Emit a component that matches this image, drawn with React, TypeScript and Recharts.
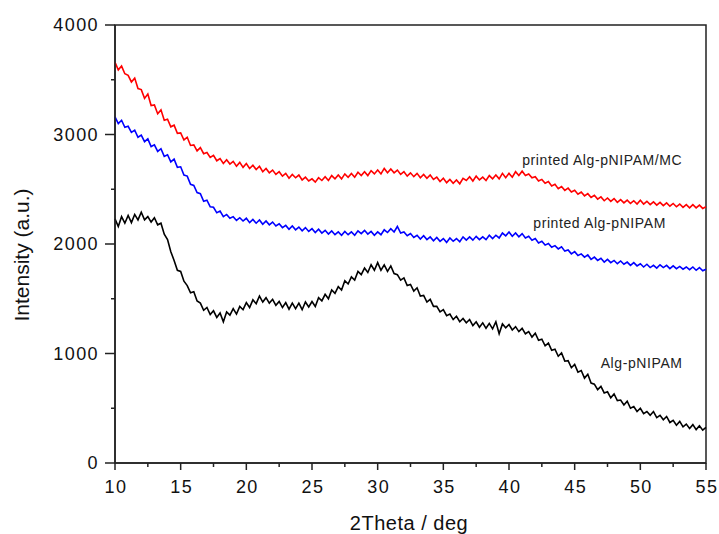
import { LineChart, Line, XAxis, YAxis, ReferenceArea, ReferenceDot } from 'recharts';

// 2Theta runs from 10 to 55 deg in steps of 0.25 deg (181 points per scan)
const startAngle = 10;
const stepAngle = 0.25;

// printed Alg-pNIPAM/MC (red)
const printedMC = [
    3660, 3590, 3625, 3555, 3540, 3480, 3515, 3420, 3410, 3330, 3370, 3265,
    3270, 3190, 3225, 3130, 3140, 3070, 3085, 3010, 3015, 2950, 2975, 2900,
    2905, 2850, 2880, 2825, 2835, 2790, 2810, 2760, 2780, 2735, 2770, 2730,
    2755, 2710, 2745, 2700, 2735, 2690, 2720, 2680, 2710, 2660, 2690, 2650,
    2675, 2635, 2660, 2620, 2645, 2600, 2635, 2605, 2630, 2585, 2610, 2575,
    2595, 2565, 2605, 2580, 2615, 2580, 2625, 2595, 2630, 2595, 2640, 2610,
    2645, 2610, 2655, 2625, 2660, 2625, 2670, 2640, 2675, 2640, 2690, 2650,
    2685, 2650, 2675, 2635, 2660, 2620, 2650, 2615, 2645, 2605, 2635, 2600,
    2630, 2590, 2610, 2570, 2600, 2560, 2590, 2555, 2585, 2550, 2600, 2580,
    2615, 2575, 2620, 2585, 2610, 2580, 2625, 2595, 2630, 2595, 2645, 2605,
    2645, 2610, 2660, 2625, 2665, 2625, 2640, 2605, 2615, 2575, 2590, 2555,
    2570, 2530, 2545, 2505, 2525, 2490, 2510, 2475, 2490, 2455, 2475, 2440,
    2460, 2425, 2445, 2410, 2430, 2395, 2420, 2390, 2415, 2380, 2405, 2375,
    2400, 2370, 2395, 2365, 2400, 2365, 2390, 2360, 2385, 2355, 2380, 2350,
    2375, 2345, 2370, 2340, 2365, 2335, 2360, 2330, 2360, 2330, 2355, 2325,
    2340,
];

// printed Alg-pNIPAM (blue)
const printedAlg = [
    3160, 3100, 3130, 3065, 3075, 3020, 3040, 2975, 2995, 2935, 2960, 2890,
    2905, 2845, 2870, 2800, 2815, 2750, 2775, 2700, 2705, 2630, 2620, 2545,
    2535, 2470, 2460, 2390, 2400, 2340, 2335, 2285, 2300, 2250, 2270, 2235,
    2250, 2215, 2240, 2210, 2235, 2195, 2225, 2190, 2220, 2180, 2210, 2175,
    2200, 2165, 2185, 2150, 2170, 2135, 2165, 2130, 2155, 2120, 2150, 2115,
    2140, 2105, 2135, 2100, 2125, 2090, 2120, 2085, 2110, 2080, 2115, 2085,
    2110, 2080, 2120, 2095, 2125, 2090, 2115, 2080, 2110, 2085, 2130, 2105,
    2140, 2110, 2160, 2100, 2110, 2075, 2095, 2060, 2080, 2045, 2075, 2040,
    2065, 2030, 2060, 2025, 2050, 2015, 2055, 2025, 2050, 2020, 2065, 2035,
    2065, 2035, 2070, 2040, 2065, 2040, 2080, 2050, 2080, 2055, 2100, 2075,
    2110, 2070, 2100, 2065, 2095, 2055, 2070, 2035, 2050, 2010, 2025, 1990,
    2005, 1970, 1985, 1955, 1975, 1935, 1945, 1910, 1930, 1895, 1910, 1880,
    1900, 1860, 1880, 1850, 1870, 1835, 1860, 1830, 1850, 1820, 1845, 1815,
    1835, 1805, 1830, 1800, 1820, 1790, 1815, 1785, 1805, 1780, 1810, 1785,
    1805, 1775, 1800, 1775, 1795, 1770, 1790, 1765, 1790, 1760, 1785, 1755,
    1770,
];

// Alg-pNIPAM (black)
const algPNIPAM = [
    2230, 2160, 2250, 2190, 2260, 2195, 2270, 2220, 2290, 2220, 2250, 2200,
    2240, 2175, 2190, 2090, 2040, 1930, 1850, 1760, 1750, 1660, 1620, 1555,
    1565, 1480, 1460, 1395, 1420, 1355, 1390, 1330, 1370, 1290, 1380, 1350,
    1410, 1360, 1430, 1400, 1465, 1420, 1490, 1455, 1525, 1470, 1510, 1460,
    1495, 1440, 1475, 1420, 1465, 1405, 1460, 1410, 1460, 1400, 1470, 1425,
    1475, 1430, 1510, 1480, 1540, 1500, 1580, 1550, 1610, 1580, 1665, 1635,
    1700, 1670, 1750, 1720, 1780, 1740, 1810, 1760, 1830, 1760, 1810, 1750,
    1800, 1730, 1720, 1670, 1690, 1620, 1630, 1570, 1600, 1525, 1530, 1470,
    1495, 1430, 1430, 1380, 1400, 1345, 1360, 1310, 1340, 1290, 1320, 1280,
    1310, 1255, 1290, 1240, 1280, 1230, 1275, 1225, 1290, 1180, 1270, 1235,
    1265, 1215, 1245, 1200, 1230, 1180, 1200, 1150, 1185, 1120, 1130, 1070,
    1095, 1030, 1040, 975, 1005, 930, 935, 870, 900, 830, 845, 775,
    810, 730, 720, 670, 700, 640, 650, 595, 630, 570, 575, 530,
    565, 500, 515, 470, 500, 450, 470, 435, 470, 415, 435, 395,
    425, 370, 390, 345, 380, 330, 355, 315, 350, 305, 340, 300,
    325,
];

const xTicks = [10, 12.5, 15, 17.5, 20, 22.5, 25, 27.5, 30, 32.5, 35, 37.5, 40, 42.5, 45, 47.5, 50, 52.5, 55];
const yTicks = [0, 500, 1000, 1500, 2000, 2500, 3000, 3500, 4000];

const seriesNames = ["printed Alg-pNIPAM/MC", "printed Alg-pNIPAM", "Alg-pNIPAM"];

const chartData = printedMC.map((v, i) => ({
    x: startAngle + i * stepAngle,
    red: v,
    blue: printedAlg[i],
    black: algPNIPAM[i],
}));

const font = "'Liberation Sans', Arial, sans-serif";
const axisColor = "#222";
const plotLeft = 115;
const plotBottom = 463;

function YTick(props: any) {
    const { y, payload } = props;
    const major = payload.value % 1000 === 0;
    return (
        <g>
            <line x1={plotLeft - (major ? 10 : 4)} x2={plotLeft} y1={y} y2={y} stroke={axisColor} strokeWidth={1.5} />
            {major && (
                <text x={99} y={y} dy={6} textAnchor="end" fontFamily={font} fontSize={18} letterSpacing={1.4} fill="#111">
                    {payload.value}
                </text>
            )}
        </g>
    );
}

function XTick(props: any) {
    const { x, payload } = props;
    const major = payload.value % 5 === 0;
    return (
        <g>
            <line x1={x} x2={x} y1={plotBottom} y2={plotBottom + (major ? 7 : 4)} stroke={axisColor} strokeWidth={1.5} />
            {major && (
                <text x={x + 1} y={493} textAnchor="middle" fontFamily={font} fontSize={18} letterSpacing={1.4} fill="#111">
                    {payload.value}
                </text>
            )}
        </g>
    );
}

function SeriesLabel(text: string) {
    return (props: any) => {
        const { viewBox } = props;
        const cx = viewBox.x + viewBox.width / 2;
        const cy = viewBox.y + viewBox.height / 2;
        return (
            <text x={cx} y={cy} dy={5} textAnchor="middle" fontFamily={font} fontSize={14} letterSpacing={0.6} fill="#222">
                {text}
            </text>
        );
    };
}

export default function App() {
    return (
        <div style={{ position: "absolute", left: 0, top: 0, background: "#fff" }}>
            <LineChart width={719} height={534} data={chartData} margin={{ top: 25, right: 13, bottom: 0, left: 0 }}>
                <XAxis
                    dataKey="x"
                    type="number"
                    domain={[10, 55]}
                    ticks={xTicks}
                    interval={0}
                    height={71}
                    tickLine={false}
                    tick={XTick}
                    axisLine={{ stroke: axisColor, strokeWidth: 1.5 }}
                    label={{
                        content: () => (
                            <text x={409} y={530} textAnchor="middle" fontFamily={font} fontSize={20} letterSpacing={0.5} fill="#111">
                                2Theta / deg
                            </text>
                        ),
                    }}
                />
                <YAxis
                    type="number"
                    domain={[0, 4000]}
                    ticks={yTicks}
                    interval={0}
                    width={115}
                    tickLine={false}
                    tick={YTick}
                    axisLine={{ stroke: axisColor, strokeWidth: 1.5 }}
                    label={{
                        content: () => (
                            <text x={29} y={255} transform="rotate(-90 29 255)" textAnchor="middle" fontFamily={font} fontSize={21} fill="#111">
                                Intensity (a.u.)
                            </text>
                        ),
                    }}
                />
                <ReferenceArea x1={10} x2={55} y1={0} y2={4000} fill="none" stroke={axisColor} strokeWidth={1.5} />
                <Line dataKey="black" stroke="#000000" strokeWidth={1.6} dot={false} isAnimationActive={false} />
                <Line dataKey="blue" stroke="#0000ff" strokeWidth={1.6} dot={false} isAnimationActive={false} />
                <Line dataKey="red" stroke="#ff0000" strokeWidth={1.6} dot={false} isAnimationActive={false} />
                <ReferenceDot x={47.1} y={2767} r={1} fill="none" stroke="none" label={{ content: SeriesLabel(seriesNames[0]) }} />
                <ReferenceDot x={46.9} y={2192} r={1} fill="none" stroke="none" label={{ content: SeriesLabel(seriesNames[1]) }} />
                <ReferenceDot x={50.1} y={913} r={1} fill="none" stroke="none" label={{ content: SeriesLabel(seriesNames[2]) }} />
            </LineChart>
        </div>
    );
}
